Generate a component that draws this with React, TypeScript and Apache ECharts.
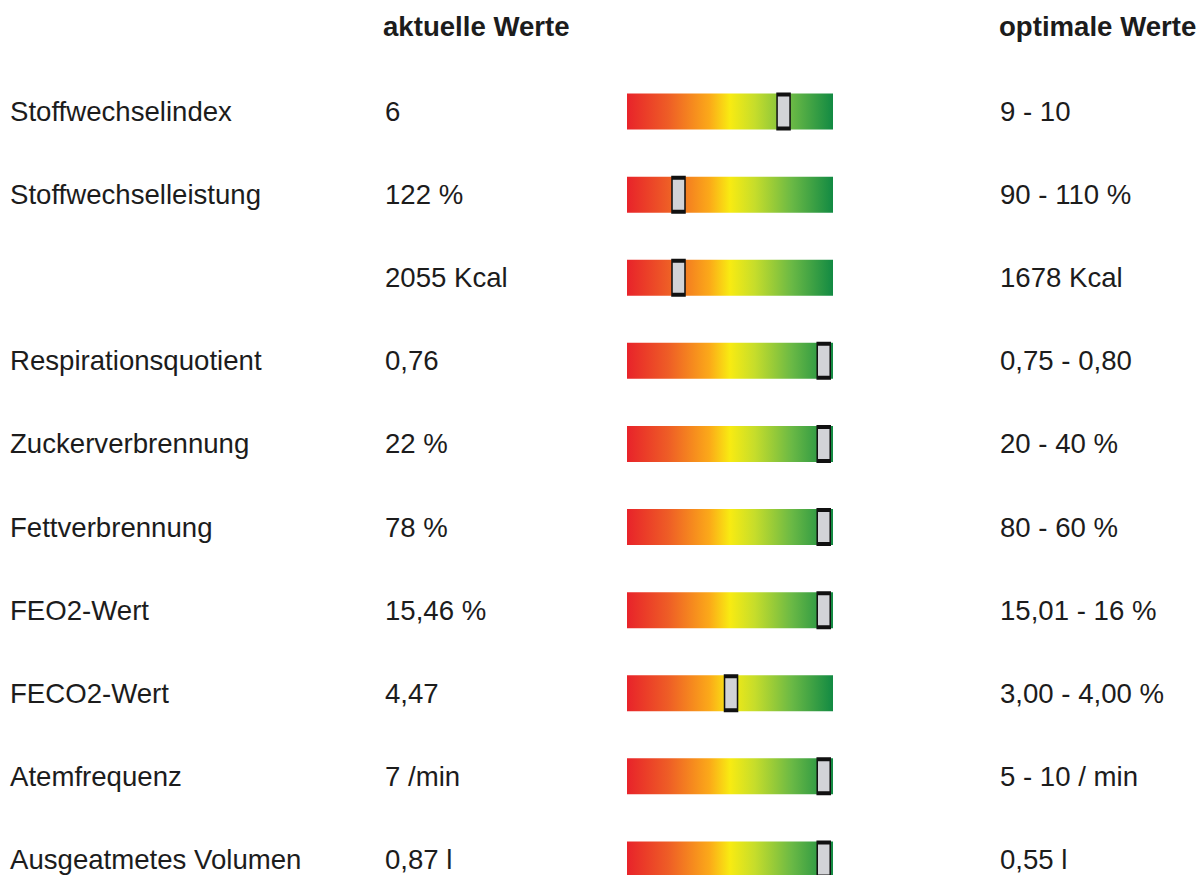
import React, { useEffect, useRef } from "react";
import * as echarts from "echarts";

const parameters = [
  "Stoffwechselindex",
  "Stoffwechselleistung",
  "",
  "Respirationsquotient",
  "Zuckerverbrennung",
  "Fettverbrennung",
  "FEO2-Wert",
  "FECO2-Wert",
  "Atemfrequenz",
  "Ausgeatmetes Volumen",
];

const currentValues = [
  "6",
  "122 %",
  "2055 Kcal",
  "0,76",
  "22 %",
  "78 %",
  "15,46 %",
  "4,47",
  "7 /min",
  "0,87 l",
];

const optimalValues = [
  "9 - 10",
  "90 - 110 %",
  "1678 Kcal",
  "0,75 - 0,80",
  "20 - 40 %",
  "80 - 60 %",
  "15,01 - 16 %",
  "3,00 - 4,00 %",
  "5 - 10 / min",
  "0,55 l",
];

// marker position on the scale (0 = left/red, 100 = right/green)
const markerPositions = [76, 25, 25, 95.5, 95.5, 95.5, 95.5, 50.5, 95.5, 95.5];
const scaleMax = 100;

const headers = ["aktuelle Werte", "optimale Werte"];

export default function App() {
  const ref = useRef<HTMLDivElement>(null);

  useEffect(() => {
    if (!ref.current) return;
    const chart = echarts.init(ref.current, undefined, { renderer: "svg" });
    const font = "'Liberation Sans', Arial, sans-serif";
    const textColor = "#1c1c1c";
    const fontSize = 27.6;

    const labelAxis = (data: string[], position: string, margin: number) => ({
      type: "category",
      inverse: true,
      position,
      data,
      axisLine: { show: false },
      axisTick: { show: false },
      splitLine: { show: false },
      axisLabel: {
        align: "left",
        margin,
        fontSize,
        fontFamily: font,
        color: textColor,
        padding: [0, 0, 3, 0],
      },
    });

    chart.setOption({
      animation: false,
      backgroundColor: "#ffffff",
      grid: { left: 627, right: 370, top: 70, bottom: 4, containLabel: false },
      xAxis: { type: "value", min: 0, max: scaleMax, show: false },
      yAxis: [
        labelAxis(parameters, "left", 617),
        labelAxis(currentValues, "left", 242),
        labelAxis(optimalValues, "right", 167),
      ],
      graphic: [
        {
          type: "text",
          left: 383,
          top: 12,
          style: {
            text: headers[0],
            fontSize,
            fontWeight: "bold",
            fontFamily: font,
            fill: textColor,
          },
        },
        {
          type: "text",
          left: 999,
          top: 12,
          style: {
            text: headers[1],
            fontSize,
            fontWeight: "bold",
            fontFamily: font,
            fill: textColor,
          },
        },
      ],
      series: [
        {
          type: "bar",
          yAxisIndex: 0,
          barWidth: 36,
          silent: true,
          data: parameters.map(() => scaleMax),
          itemStyle: {
            color: new echarts.graphic.LinearGradient(0, 0, 1, 0, [
              { offset: 0, color: "#e8232a" },
              { offset: 0.2, color: "#ee5d26" },
              { offset: 0.4, color: "#fba919" },
              { offset: 0.5, color: "#f8eb12" },
              { offset: 0.62, color: "#c6dd2b" },
              { offset: 0.8, color: "#6ab945" },
              { offset: 1, color: "#128a43" },
            ]),
          },
          z: 1,
        },
        {
          type: "scatter",
          yAxisIndex: 0,
          symbol: "rect",
          symbolSize: [13, 34],
          data: markerPositions.map((v, i) => [v, i]),
          itemStyle: {
            color: "#d2d3d7",
            borderColor: "#111111",
            borderWidth: 2.5,
            opacity: 1,
          },
          z: 5,
        },
      ],
    });

    return () => chart.dispose();
  }, []);

  return (
    <div
      style={{
        position: "fixed",
        left: 0,
        top: 0,
        width: 1203,
        height: 875,
        overflow: "hidden",
        background: "#ffffff",
      }}
    >
      <div ref={ref} style={{ width: 1203, height: 905 }} />
    </div>
  );
}
